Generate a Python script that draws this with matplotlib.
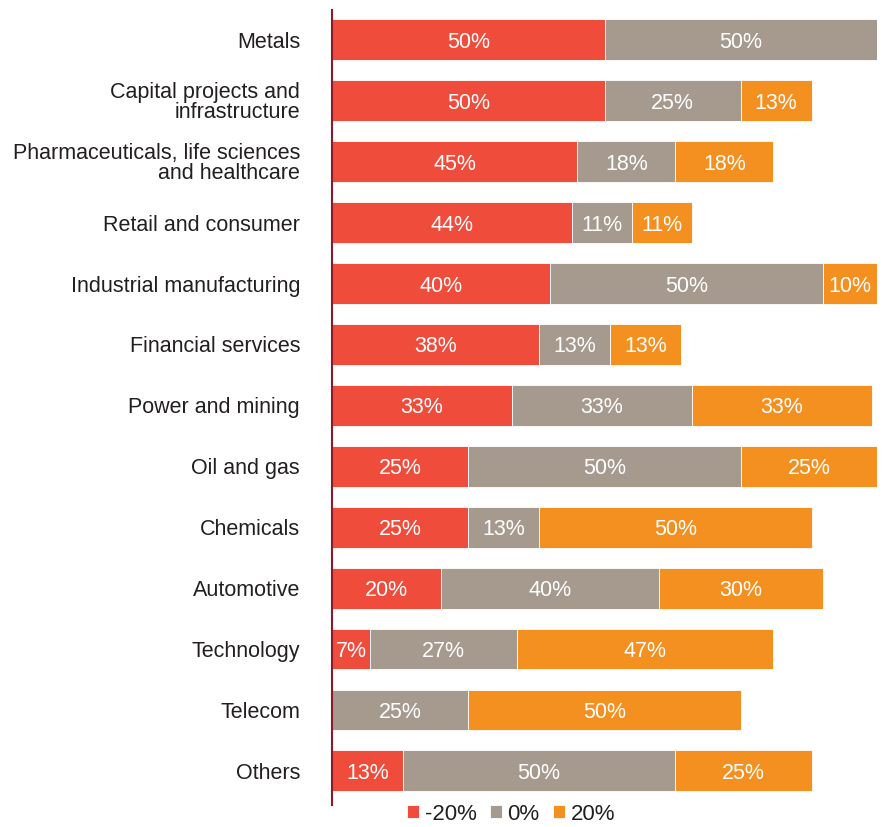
import numpy as np
import matplotlib.pyplot as plt

plt.rcParams['font.family'] = ['Liberation Sans', 'DejaVu Sans']

categories = ["Metals", "Capital projects and\ninfrastructure",
              "Pharmaceuticals, life sciences\nand healthcare", "Retail and consumer",
              "Industrial manufacturing", "Financial services", "Power and mining",
              "Oil and gas", "Chemicals", "Automotive", "Technology", "Telecom", "Others"]
minus20 = [50, 50, 45, 44, 40, 38, 33, 25, 25, 20, 7, 0, 13]
zero = [50, 25, 18, 11, 50, 13, 33, 50, 13, 40, 27, 25, 50]
plus20 = [0, 13, 18, 11, 10, 13, 33, 25, 50, 30, 47, 50, 25]
series_names = ["-20%", "0%", "20%"]
colors = ["#EF4C3C", "#A69A8F", "#F39020"]

fig = plt.figure(figsize=(8.85, 8.27), dpi=100)
ax = fig.add_axes([332 / 885, 22 / 827, 545 / 885, 795 / 827])

y = np.arange(len(categories))
left = np.zeros(len(categories))
handles = []
for vals, name, col in zip([minus20, zero, plus20], series_names, colors):
    vals = np.array(vals, dtype=float)
    bars = ax.barh(y, vals, left=left, height=0.67, color=col, edgecolor="white",
                   linewidth=0.6, label=name)
    handles.append(bars)
    for yi, l, v in zip(y, left, vals):
        if v > 0:
            ax.text(l + v / 2, yi, f"{int(v)}%", ha="center", va="center_baseline",
                    color="white", fontsize=15.5)
    left += vals

ax.set_xlim(0, 100)
ax.set_ylim(len(categories) - 1 + 0.56, -0.49)
ax.set_yticks(y)
ax.set_yticklabels(categories, fontsize=15.5, color="#231F20", linespacing=0.95)
ax.tick_params(axis="y", length=0, pad=23)
ax.set_xticks([])
for s in ["top", "right", "bottom"]:
    ax.spines[s].set_visible(False)
ax.spines["left"].set_color("#8B1A2B")
ax.spines["left"].set_linewidth(1.5)

fig.legend(handles=handles, labels=series_names, loc="center", bbox_to_anchor=(511 / 885, 1 - 814 / 827),
           ncol=3, frameon=False, fontsize=16, handlelength=0.55, handleheight=0.55,
           handletextpad=0.25, columnspacing=0.6, borderaxespad=0,
           labelcolor="#231F20")

fig.savefig("out.png", dpi=100)
